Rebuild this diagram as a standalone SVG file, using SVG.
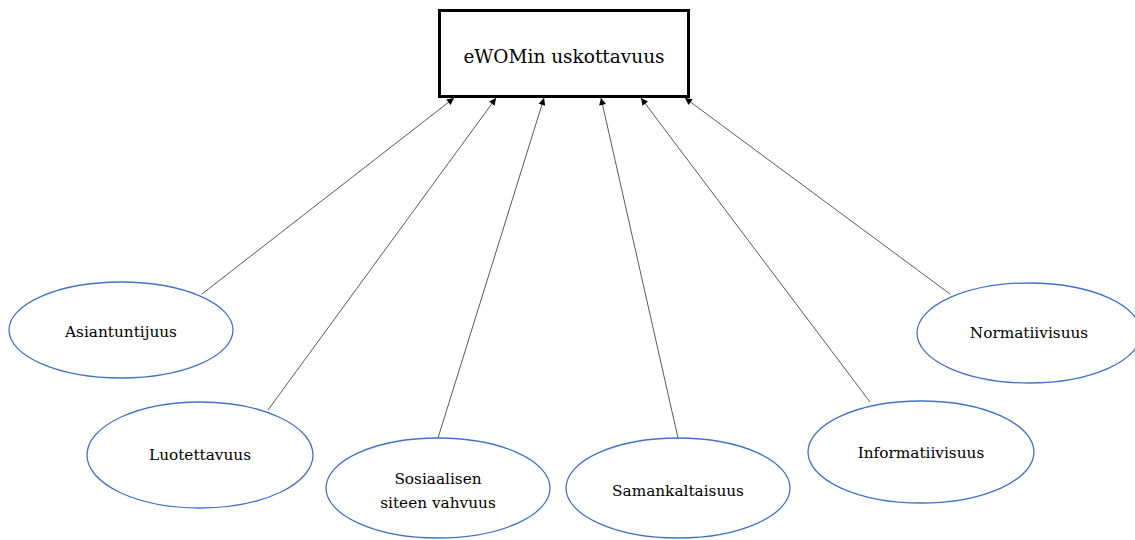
<svg xmlns="http://www.w3.org/2000/svg" width="1135" height="540" viewBox="0 0 1135 540">
  <style>
    .bg { fill: #ffffff; }
    .box { fill: #ffffff; stroke: #000000; stroke-width: 3; }
    .oval { fill: #ffffff; stroke: #4472c4; stroke-width: 1.3; }
    text { font-family: 'DejaVu Serif', serif; fill: #000000; text-anchor: middle; }
    .title { font-size: 18.5px; }
    .label { font-size: 15.3px; }
    .link { stroke: #595959; stroke-width: 1; fill: none; marker-end: url(#tip); }
  </style>
  <defs>
    <marker id="tip" viewBox="0 0 10 10" refX="10" refY="5" markerWidth="8" markerHeight="7" markerUnits="userSpaceOnUse" orient="auto">
      <path d="M0,0 L10,5 L0,10 z" fill="#000000"/>
    </marker>
  </defs>
  <rect class="bg" x="0" y="0" width="1135" height="540"/>

  <!-- connectors: each factor points to the central box -->
  <g id="connectors">
    <line class="link" x1="202" y1="294" x2="454" y2="98"/>
    <line class="link" x1="268" y1="410" x2="496" y2="98"/>
    <line class="link" x1="438" y1="438" x2="544" y2="98"/>
    <line class="link" x1="678" y1="438" x2="601" y2="98"/>
    <line class="link" x1="870" y1="402" x2="641" y2="98"/>
    <line class="link" x1="950" y1="294" x2="685" y2="98"/>
  </g>

  <g id="ewom">
    <rect class="box" x="439.5" y="10.5" width="249" height="86"/>
    <text class="title" x="564" y="63">eWOMin uskottavuus</text>
  </g>

  <g id="asiantuntijuus">
    <ellipse class="oval" cx="121" cy="330" rx="112" ry="48"/>
    <text class="label" x="121" y="337">Asiantuntijuus</text>
  </g>

  <g id="luotettavuus">
    <ellipse class="oval" cx="200" cy="455" rx="113" ry="53"/>
    <text class="label" x="200" y="460">Luotettavuus</text>
  </g>

  <g id="sosiaalisen-siteen-vahvuus">
    <ellipse class="oval" cx="438" cy="488" rx="112" ry="50"/>
    <text class="label" x="438" y="484">Sosiaalisen</text>
    <text class="label" x="438" y="508">siteen vahvuus</text>
  </g>

  <g id="samankaltaisuus">
    <ellipse class="oval" cx="678" cy="488" rx="112" ry="50"/>
    <text class="label" x="678" y="496">Samankaltaisuus</text>
  </g>

  <g id="informatiivisuus">
    <ellipse class="oval" cx="921" cy="452" rx="113" ry="51"/>
    <text class="label" x="921" y="458">Informatiivisuus</text>
  </g>

  <g id="normatiivisuus">
    <ellipse class="oval" cx="1029" cy="333" rx="112" ry="50"/>
    <text class="label" x="1029" y="338">Normatiivisuus</text>
  </g>
</svg>
